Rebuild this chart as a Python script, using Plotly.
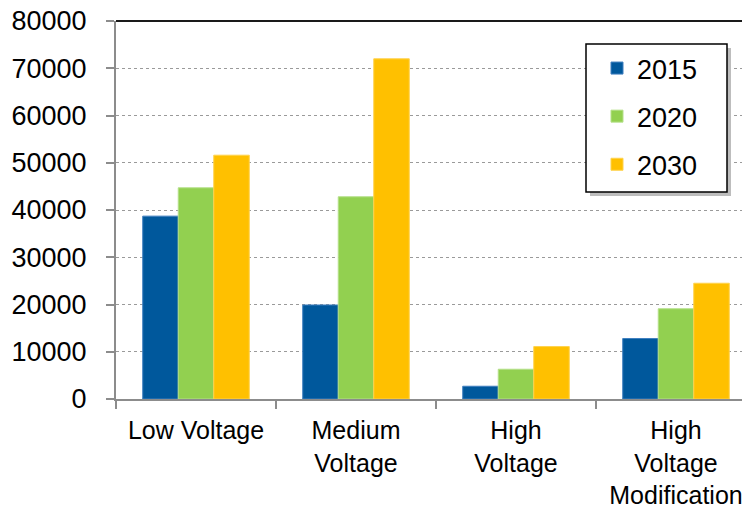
import plotly.graph_objects as go

categories = ["Low Voltage", "Medium<br>Voltage", "High<br>Voltage", "High<br>Voltage<br>Modification"]
years = ["2015", "2020", "2030"]
values_2015 = [38700, 19900, 2700, 12800]
values_2020 = [44700, 42800, 6300, 19100]
values_2030 = [51600, 72000, 11100, 24500]
y_ticks = [0, 10000, 20000, 30000, 40000, 50000, 60000, 70000, 80000]

series = [values_2015, values_2020, values_2030]
colors = ["#00589C", "#92D050", "#FFC000"]
edge_colors = ["#3F7FBF", "#B5E08A", "#FFD24D"]

OFF = 8  # page body margin in the browser
W, H = 750 - OFF, 509 - OFF
# plot area in window pixels
L, T, R_px, B_px = 116, 21, 750, 399


def px_x(p):
    return (p - L) / (R_px - L)


def px_y(p):
    return (B_px - p) / (B_px - T)


fig = go.Figure()
for name, vals, c, ec in zip(years, series, colors, edge_colors):
    fig.add_trace(go.Bar(
        x=categories, y=vals, name=name, legendgroup=name,
        marker=dict(color=c, line=dict(color=ec, width=1)),
    ))

font_family = "Liberation Sans, Arial, sans-serif"

fig.update_layout(
    width=W, height=H,
    margin=dict(l=L - OFF, r=(750 - R_px), t=T - OFF, b=509 - B_px, autoexpand=False),
    paper_bgcolor="white", plot_bgcolor="white",
    barmode="group", bargap=0.334, bargroupgap=0,
    font=dict(family=font_family, size=27, color="black"),
    showlegend=True,
    legend=dict(
        x=px_x(597), y=px_y(44), xanchor="left", yanchor="top",
        bgcolor="rgba(0,0,0,0)", borderwidth=0,
        font=dict(size=27, color="black"),
        tracegroupgap=10, itemwidth=30,
    ),
    xaxis=dict(
        range=[-0.5, 3.4625], automargin=False, ticklabeloverflow="allow",
        showline=True, linecolor="#8C8C8C", linewidth=2,
        ticks="outside", tickson="boundaries", ticklen=8, tickcolor="#8C8C8C", tickwidth=2,
        showgrid=False, tickfont=dict(size=25),
        ticklabelstandoff=8,
    ),
    yaxis=dict(
        range=[0, 80000], tickvals=y_ticks, ticktext=[str(v) for v in y_ticks],
        automargin=False, ticklabeloverflow="allow",
        showline=True, linecolor="#8C8C8C", linewidth=2,
        ticks="outside", ticklen=8, tickcolor="#8C8C8C", tickwidth=2,
        showgrid=True, gridcolor="#9A9A9A", gridwidth=1, griddash="dot",
        zeroline=False, tickfont=dict(size=27),
        ticklabelstandoff=14,
    ),
    shapes=[
        dict(type="line", xref="paper", yref="paper", x0=0, x1=1, y0=1, y1=1,
             line=dict(color="#1A1A1A", width=2), layer="above"),
        dict(type="rect", xref="paper", yref="paper",
             x0=px_x(590), x1=px_x(731), y0=px_y(48), y1=px_y(196),
             fillcolor="#BDBDBD", line=dict(width=0), layer="above"),
        dict(type="rect", xref="paper", yref="paper",
             x0=px_x(586), x1=px_x(727), y0=px_y(44), y1=px_y(192),
             fillcolor="white", line=dict(color="black", width=1.5), layer="above"),
    ],
)

fig.write_html("out.html")
